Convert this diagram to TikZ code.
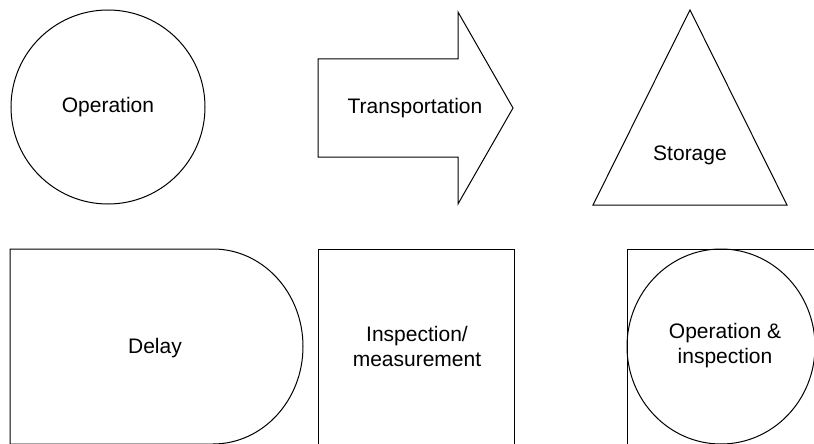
\documentclass[tikz,border=0pt]{standalone}
\usepackage{fontspec}
\setmainfont{Liberation Sans}
\usetikzlibrary{positioning}

\tikzset{
  symbol/.style={draw, line width=1pt, line join=miter},
  symlabel/.style={font=\fontsize{21}{25}\selectfont, align=center, inner sep=0pt}
}

\begin{document}
\begin{tikzpicture}[x=1pt,y=-1pt]
        \useasboundingbox (0,0) rectangle (814,444);
        % top row
        \draw[symbol] (108,107) circle (97pt);
        \node[symlabel] (operation) at (108,107) {Operation};
        \draw[symbol] (318,59) -- (458,59) -- (458,12) -- (513,108)
              -- (458,204) -- (458,157) -- (318,157) -- cycle;
        \node[symlabel] (transport) at (415,108) {Transportation};
        \draw[symbol] (690,10) -- (787,205) -- (593,205) -- cycle;
        \node[symlabel] (storage) at (690,155) {Storage};
        % bottom row
        \draw[symbol] (213,444) -- (10,444) -- (10,249) -- (213,249)
              arc[start angle=90, end angle=-90, x radius=90pt, y radius=97.5pt];
        \node[symlabel] (delay) at (155,348) {Delay};
        \draw[symbol] (318,249) rectangle (514,444);
        \node[symlabel] (inspect) at (417,346) {Inspection/\\measurement};
        \draw[symbol] (627,249) rectangle (816,446);
        \draw[symbol] (721,346.5) ellipse [x radius=94pt, y radius=97.5pt];
        \node[symlabel] (opinspect) at (725,346) {Operation \&\\inspection};
\end{tikzpicture}
\end{document}
